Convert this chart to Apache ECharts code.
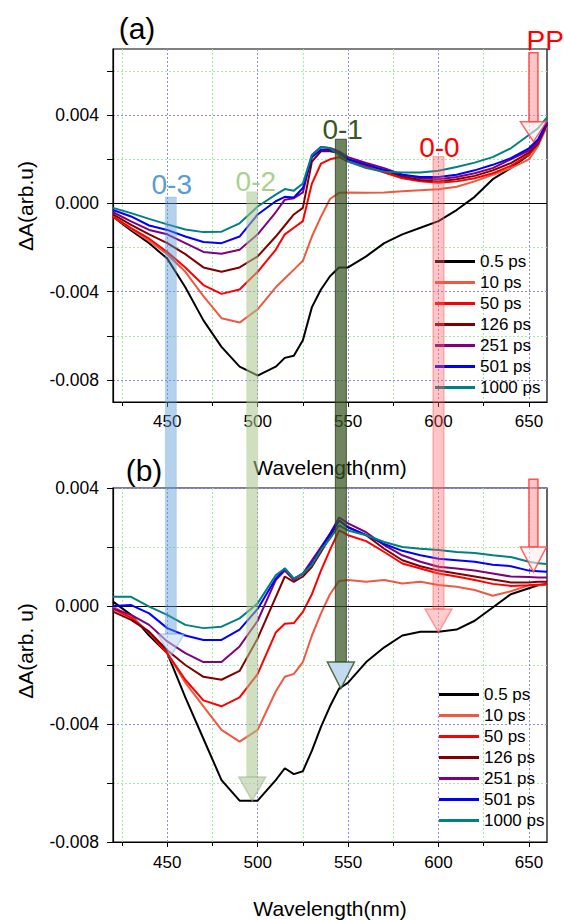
<!DOCTYPE html>
<html>
<head>
<meta charset="utf-8">
<script src="https://cdn.jsdelivr.net/npm/echarts@6/dist/echarts.min.js"></script>
<style>html,body{margin:0;padding:0;background:#fff}#c{width:564px;height:920px}</style>
</head>
<body>
<div id="c"></div>
<script>
// ---------------- data ----------------
const seriesNames = ['0.5 ps', '10 ps', '50 ps', '126 ps', '251 ps', '501 ps', '1000 ps'];
const wavelength = [420,430,440,450,460,470,480,490,500,510,515,520,525,530,535,540,545,550,560,570,580,590,600,610,620,630,640,650,655,660];

// panel (a)
const a_0p5  = [-0.0006,-0.00122,-0.0018,-0.0025,-0.0038,-0.0053,-0.0065,-0.0074,-0.0078,-0.0074,-0.0070,-0.0069,-0.0062,-0.0047,-0.0039,-0.0033,-0.0029,-0.0029,-0.0024,-0.0018,-0.0014,-0.0011,-0.0008,-0.0003,0.0003,0.0011,0.0016,0.0022,0.0028,0.0036];
const a_10   = [-0.0006,-0.00116,-0.0017,-0.0023,-0.0031,-0.0042,-0.0052,-0.0054,-0.0048,-0.0038,-0.0034,-0.0030,-0.0026,-0.0015,-0.0006,0.0002,0.00048,0.0005,0.00048,0.0005,0.00055,0.0006,0.00064,0.00076,0.0010,0.0013,0.0016,0.0020,0.0026,0.0035];
const a_50   = [-0.0006,-0.00112,-0.0016,-0.0022,-0.0029,-0.0037,-0.0041,-0.0039,-0.0031,-0.0021,-0.0014,-0.0011,-0.0008,0.0009,0.0018,0.0020,0.0021,0.0019,0.00167,0.0014,0.00114,0.0010,0.00094,0.0010,0.00114,0.00137,0.0017,0.0022,0.0027,0.0036];
const a_126  = [-0.0005,-0.00097,-0.0014,-0.0018,-0.0023,-0.0029,-0.0031,-0.0029,-0.0024,-0.0015,-0.0010,-0.0005,-0.0002,0.0019,0.00236,0.00236,0.00228,0.0020,0.00175,0.0015,0.00122,0.00106,0.0010,0.0011,0.00125,0.0015,0.00183,0.0023,0.0027,0.0036];
const a_251  = [-0.0004,-0.00081,-0.0012,-0.0014,-0.0018,-0.0022,-0.00228,-0.0021,-0.0014,-0.0004,0.00017,0.00024,0.0005,0.0022,0.00256,0.00251,0.00236,0.0021,0.00183,0.0016,0.0013,0.00114,0.0011,0.0012,0.00137,0.0016,0.0020,0.0024,0.0028,0.0037];
const a_501  = [-0.0003,-0.00059,-0.0010,-0.0012,-0.0015,-0.00175,-0.0018,-0.0015,-0.0005,0.0001,0.0003,0.00027,0.0007,0.0021,0.00243,0.00243,0.00228,0.0020,0.00175,0.00152,0.0013,0.0012,0.0012,0.0013,0.0015,0.00175,0.00205,0.0025,0.0029,0.0037];
const a_1000 = [-0.0002,-0.00044,-0.0007,-0.00095,-0.00118,-0.0013,-0.00128,-0.0009,-0.00014,0.0004,0.00065,0.00058,0.0009,0.0022,0.00256,0.0025,0.0022,0.0019,0.0016,0.00144,0.0014,0.0014,0.00148,0.00165,0.00185,0.0021,0.0025,0.0031,0.0034,0.0039];

// panel (b)
const b_0p5  = [0.00015,-0.0003,-0.0010,-0.0016,-0.0031,-0.0045,-0.0059,-0.0066,-0.0066,-0.0059,-0.0055,-0.0057,-0.0056,-0.0049,-0.0041,-0.0034,-0.0028,-0.0026,-0.0019,-0.0014,-0.0010,-0.00087,-0.00087,-0.0008,-0.0005,-0.00005,0.0004,0.0006,0.0007,0.00075];
const b_10   = [-0.00002,-0.00036,-0.0009,-0.0016,-0.0026,-0.0034,-0.0042,-0.0046,-0.0042,-0.0029,-0.0024,-0.0023,-0.0019,-0.0010,-0.00025,0.0004,0.00085,0.00088,0.00082,0.00088,0.00076,0.00082,0.00071,0.00065,0.00054,0.00035,0.0005,0.0007,0.0007,0.00072];
const b_50   = [-0.0001,-0.0004,-0.0009,-0.0016,-0.0025,-0.0032,-0.0034,-0.0031,-0.0023,-0.0009,-0.0006,-0.00058,-0.0002,0.0004,0.0012,0.0019,0.00256,0.0024,0.0022,0.00183,0.00144,0.00127,0.0011,0.0010,0.00088,0.00075,0.00068,0.0007,0.00072,0.00074];
const b_126  = [-0.00019,-0.00047,-0.00087,-0.0015,-0.0020,-0.0024,-0.0025,-0.0022,-0.0011,0.0003,0.0010,0.00082,0.0010,0.00133,0.00183,0.00234,0.0029,0.00267,0.0024,0.00194,0.00155,0.00135,0.0012,0.0011,0.0010,0.0009,0.0008,0.0008,0.00082,0.00082];
const b_251  = [-0.00008,-0.0003,-0.00064,-0.0012,-0.0016,-0.0019,-0.0019,-0.00137,-0.0005,0.00088,0.0012,0.00088,0.0011,0.00155,0.0020,0.00245,0.0030,0.0028,0.0025,0.00206,0.00172,0.0015,0.00133,0.00127,0.0012,0.0011,0.0010,0.00098,0.00097,0.00097];
const b_501  = [0.0,0.00003,-0.00025,-0.00075,-0.0010,-0.00115,-0.00115,-0.0008,-0.0001,0.00093,0.00127,0.00093,0.0011,0.00144,0.00194,0.00245,0.0029,0.00267,0.0024,0.0021,0.00187,0.00172,0.0016,0.00155,0.0015,0.0014,0.00135,0.0012,0.00118,0.00116];
const b_1000 = [0.00031,0.00031,-0.00002,-0.0003,-0.00064,-0.00075,-0.0007,-0.00042,0.00009,0.00104,0.00127,0.00093,0.0011,0.0014,0.0019,0.00228,0.00273,0.00256,0.0024,0.00217,0.0020,0.00194,0.0019,0.00183,0.0018,0.00172,0.00166,0.0015,0.00145,0.00142];

// axes ticks
const xMajorTicks = [450, 500, 550, 600, 650];
const xMinorTicks = [425, 475, 525, 575, 625];
const yMajorTicksA = [-0.008, -0.004, 0, 0.004];
const yMinorTicksA = [-0.006, -0.002, 0.002, 0.006];
const yMajorTicksB = [-0.008, -0.004, 0, 0.004];
const yMinorTicksB = [-0.006, -0.002, 0.002];

// annotations (band labels, wavelength of band, anchors in data units)
const annotLabels   = ['0-3', '0-2', '0-1', '0-0', 'PP'];
const annotNm       = [452, 497, 546, 600, 652.5];
const annotLabelNm  = [452.5, 499, 547, 600.5, 659];
const annotLabelVal = [0.00085, 0.0010, 0.00333, 0.00254, 0.00738];
const annotTopVal   = [0.00029, 0.00053, 0.00291, 0.00212, 0.00683];
const annotHeadBase = [-0.00095, -0.0058, -0.0019, -0.0001, 0.0037];
const annotHeadTip  = [-0.0017, -0.0066, -0.0028, -0.0009, 0.0028];
const ppB = {top: 0.0043, base: 0.0020, tip: 0.00115};

// ---------------- chart ----------------
const FONT = '"Liberation Sans", Arial, Helvetica, sans-serif';
const colors = ['#000000', '#EE5A40', '#FF0000', '#800000', '#800080', '#0000FF', '#008080'];
const dataA = [a_0p5, a_10, a_50, a_126, a_251, a_501, a_1000];
const dataB = [b_0p5, b_10, b_50, b_126, b_251, b_501, b_1000];

const chart = echarts.init(document.getElementById('c'), null, {renderer: 'svg', width: 564, height: 920});

function xAxisDef(gridIndex, major, margin, nameGap) {
  return {
    type: 'value', gridIndex, min: 420, max: 660, position: 'bottom', offset: 0,
    axisLine: {show: major, onZero: false, lineStyle: {color: '#000', width: 1.2}},
    axisTick: {show: true, inside: false, customValues: major ? xMajorTicks : xMinorTicks, length: major ? 5 : 4, lineStyle: {color: '#000', width: 1}},
    axisLabel: {show: major, customValues: xMajorTicks, color: '#000', fontSize: 17, fontFamily: FONT, margin: margin},
    splitLine: {show: true, lineStyle: {color: major ? '#8c8cff' : '#9fef9f', type: [2, 2], width: 1}},
    name: major ? 'Wavelength(nm)' : '', nameLocation: 'middle', nameGap: nameGap,
    nameTextStyle: {color: '#000', fontSize: 21, fontFamily: FONT}
  };
}
function yAxisDef(gridIndex, major, min, max, majors, minors) {
  return {
    type: 'value', gridIndex, min, max, position: 'left', offset: 0,
    axisLine: {show: major, onZero: false, lineStyle: {color: '#000', width: 1.2}},
    axisTick: {show: true, inside: false, customValues: major ? majors : minors, length: 6, lineStyle: {color: '#000', width: 1}},
    axisLabel: {show: major, customValues: majors, color: '#000', fontSize: 17.5, fontFamily: FONT, margin: 14,
      formatter: v => (Math.abs(v) < 1e-12 ? 0 : v).toFixed(3)},
    splitLine: {show: true, lineStyle: {color: major ? '#8c8cff' : '#9fef9f', type: [2, 2], width: 1}}
  };
}

const series = [];
function addPanel(data, xi, yi) {
  data.forEach((vals, i) => {
    const s = {
      type: 'line', name: seriesNames[i], xAxisIndex: xi, yAxisIndex: yi,
      data: wavelength.map((w, j) => [w, vals[j]]),
      showSymbol: false, symbol: 'none', silent: true,
      lineStyle: {color: colors[i], width: 2}, itemStyle: {color: colors[i]},
      z: 2 + i
    };
    if (i === 0) {
      s.markLine = {silent: true, symbol: ['none', 'none'], label: {show: false},
        lineStyle: {color: '#000', width: 1.2, type: 'solid'}, data: [{yAxis: 0}], animation: false};
    }
    series.push(s);
  });
}
addPanel(dataA, 0, 0);
addPanel(dataB, 2, 2);

function legendDef(left, top) {
  return {
    left, top, orient: 'vertical', icon: 'rect', itemWidth: 40, itemHeight: 3, itemGap: 4, padding: 0,
    selectedMode: false, data: seriesNames,
    textStyle: {color: '#000', fontSize: 17, fontFamily: FONT},
    itemStyle: {borderWidth: 0}
  };
}

const gridBase = {show: true, borderColor: '#000', borderWidth: 1.2, backgroundColor: 'rgba(0,0,0,0)', containLabel: false, outerBoundsMode: 'none'};

chart.setOption({
  animation: false,
  backgroundColor: '#fff',
  grid: [
    Object.assign({left: 113, top: 49, width: 434, height: 353}, gridBase),
    Object.assign({left: 113, top: 488, width: 434, height: 354}, gridBase)
  ],
  xAxis: [xAxisDef(0, true, 11, 55), xAxisDef(0, false, 11, 55), xAxisDef(1, true, 12, 56), xAxisDef(1, false, 12, 56)],
  yAxis: [
    yAxisDef(0, true, -0.009, 0.007, yMajorTicksA, yMinorTicksA),
    yAxisDef(0, false, -0.009, 0.007, yMajorTicksA, yMinorTicksA),
    yAxisDef(1, true, -0.008, 0.004, yMajorTicksB, yMinorTicksB),
    yAxisDef(1, false, -0.008, 0.004, yMajorTicksB, yMinorTicksB)
  ],
  legend: [legendDef(435, 253), legendDef(439, 686)],
  series
});

// ---------------- annotations ----------------
const P = (g, x, y) => chart.convertToPixel({gridIndex: g}, [x, y]);
const barStyles = [
  {bar: 'rgba(91,155,213,0.45)', barStroke: 'rgba(91,155,213,0.25)', head: 'rgba(189,215,238,0.55)', headStroke: 'rgba(91,155,213,0.35)', text: '#5B9BD5'},
  {bar: 'rgba(169,196,140,0.55)', barStroke: 'rgba(169,196,140,0.3)', head: 'rgba(180,200,160,0.6)', headStroke: 'rgba(150,180,120,0.5)', text: '#A9D18E'},
  {bar: 'rgba(55,86,35,0.72)', barStroke: 'rgba(40,60,25,0.8)', head: 'rgba(189,215,238,0.9)', headStroke: 'rgba(55,86,35,0.85)', text: '#375623'},
  {bar: 'rgba(255,100,100,0.38)', barStroke: 'rgba(255,60,60,0.45)', head: 'rgba(255,160,160,0.55)', headStroke: 'rgba(255,90,90,0.55)', text: '#FF0000'}
];
const graphics = [];
const BAR_W = 11, HEAD_W = 27;
for (let i = 0; i < 4; i++) {
  const st = barStyles[i];
  const top = P(0, annotNm[i], annotTopVal[i]);
  const base = P(1, annotNm[i], annotHeadBase[i]);
  const tip = P(1, annotNm[i], annotHeadTip[i]);
  const x = top[0];
  graphics.push({type: 'rect', z: 50, silent: true,
    shape: {x: x - BAR_W / 2, y: top[1], width: BAR_W, height: base[1] - top[1]},
    style: {fill: st.bar, stroke: st.barStroke, lineWidth: 1}});
  graphics.push({type: 'polygon', z: 51, silent: true,
    shape: {points: [[base[0] - HEAD_W / 2, base[1]], [base[0] + HEAD_W / 2, base[1]], [tip[0], tip[1]]]},
    style: {fill: st.head, stroke: st.headStroke, lineWidth: 1.5}});
  const lp = P(0, annotLabelNm[i], annotLabelVal[i]);
  graphics.push({type: 'text', z: 60, silent: true, x: lp[0], y: lp[1],
    style: {text: annotLabels[i], fill: st.text, font: '28px ' + FONT, align: 'center', verticalAlign: 'middle', textAlign: 'center', textVerticalAlign: 'middle'}});
}
// PP arrows (panel a and panel b)
function ppArrow(g, topV, baseV, tipV) {
  const t = P(g, annotNm[4], topV), b = P(g, annotNm[4], baseV), p = P(g, annotNm[4], tipV);
  graphics.push({type: 'rect', z: 50, silent: true,
    shape: {x: t[0] - 4.5, y: t[1], width: 9, height: b[1] - t[1]},
    style: {fill: 'rgba(255,150,150,0.55)', stroke: 'rgba(255,60,60,0.85)', lineWidth: 1.5}});
  graphics.push({type: 'polygon', z: 51, silent: true,
    shape: {points: [[b[0] - 13, b[1]], [b[0] + 13, b[1]], [p[0], p[1]]]},
    style: {fill: 'rgba(255,235,235,0.6)', stroke: 'rgba(255,70,70,0.85)', lineWidth: 1.5}});
}
ppArrow(0, annotTopVal[4], annotHeadBase[4], annotHeadTip[4]);
ppArrow(1, ppB.top, ppB.base, ppB.tip);
const ppl = P(0, annotLabelNm[4], annotLabelVal[4]);
graphics.push({type: 'text', z: 60, silent: true, x: ppl[0], y: ppl[1],
  style: {text: annotLabels[4], fill: '#FF0000', font: '28px ' + FONT, align: 'center', verticalAlign: 'middle', textAlign: 'center', textVerticalAlign: 'middle'}});

// panel letters and y-axis titles
graphics.push({type: 'text', z: 60, silent: true, x: 137, y: 28,
  style: {text: '(a)', fill: '#000', font: '30px ' + FONT, align: 'center', verticalAlign: 'middle', textAlign: 'center', textVerticalAlign: 'middle'}});
graphics.push({type: 'text', z: 60, silent: true, x: 144, y: 470,
  style: {text: '(b)', fill: '#000', font: '30px ' + FONT, align: 'center', verticalAlign: 'middle', textAlign: 'center', textVerticalAlign: 'middle'}});
graphics.push({type: 'text', z: 60, silent: true, x: 25, y: 206, rotation: Math.PI / 2,
  style: {text: 'ΔA(arb.u)', fill: '#000', font: '21px ' + FONT, align: 'center', verticalAlign: 'middle', textAlign: 'center', textVerticalAlign: 'middle'}});
graphics.push({type: 'text', z: 60, silent: true, x: 25, y: 651, rotation: Math.PI / 2,
  style: {text: 'ΔA(arb. u)', fill: '#000', font: '21px ' + FONT, align: 'center', verticalAlign: 'middle', textAlign: 'center', textVerticalAlign: 'middle'}});

chart.setOption({graphic: graphics});
</script>
</body>
</html>
